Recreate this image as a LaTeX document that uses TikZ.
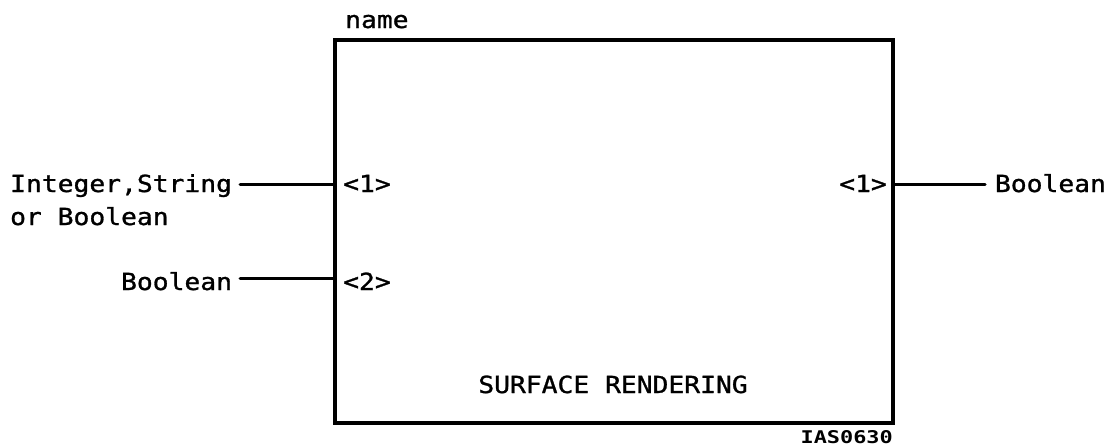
\documentclass[tikz,border=0pt]{standalone}
\usepackage{fontspec}
\setmainfont{DejaVu Sans Mono}[FakeStretch=1.12, FakeBold=1.2]
\newfontfamily\tagfont{DejaVu Sans Mono Bold}[FakeStretch=1.25]
\usetikzlibrary{positioning}

\begin{document}
\begin{tikzpicture}[
  x=1pt, y=-1pt,
  block/.style={draw, line width=3.6pt, inner sep=0pt, minimum width=558pt, minimum height=383pt},
  txt/.style={inner sep=0pt, font=\fontsize{23.5}{28}\selectfont},
  port/.style={txt},
  tylab/.style={txt, outer xsep=8pt},
  wire/.style={line width=3pt, line cap=round}
]
\useasboundingbox (0,0) rectangle (1111,447);

\node[block] (blk) at (614,231.5) {};
\node[txt, anchor=base west] (nm) at (345,28) {name};
\node[txt, anchor=base] (title) at (613,393) {SURFACE RENDERING};
\node[inner sep=0pt, anchor=base east, font=\tagfont\fontsize{17.5}{20}\selectfont] (tag) at (893,443) {IAS0630};

% ports inside the block
\node[port, anchor=base west] (inA) at (343,192) {<1>};
\node[port, anchor=base west] (inB) at (343,290) {<2>};
\node[port, anchor=base east] (outA) at (887,192) {<1>};

% type labels
\node[tylab, anchor=base east] (tyA) at (240,192) {Integer,String};
\node[tylab, anchor=base west] (tyA2) at ([yshift=-33pt]tyA.base west) {or Boolean};
\node[tylab, anchor=base east] (tyB) at (240,290) {Boolean};
\node[tylab, outer xsep=10pt, anchor=base west] (tyOut) at (985,192) {Boolean};

\draw[wire] ([yshift=8pt]tyA.base east) -- ([yshift=8pt]tyA.base east -| blk.west);
\draw[wire] ([yshift=12pt]tyB.base east) -- ([yshift=12pt]tyB.base east -| blk.west);
\draw[wire] ([yshift=8pt]tyOut.base west -| blk.east) -- ([yshift=8pt]tyOut.base west);

\end{tikzpicture}
\end{document}
